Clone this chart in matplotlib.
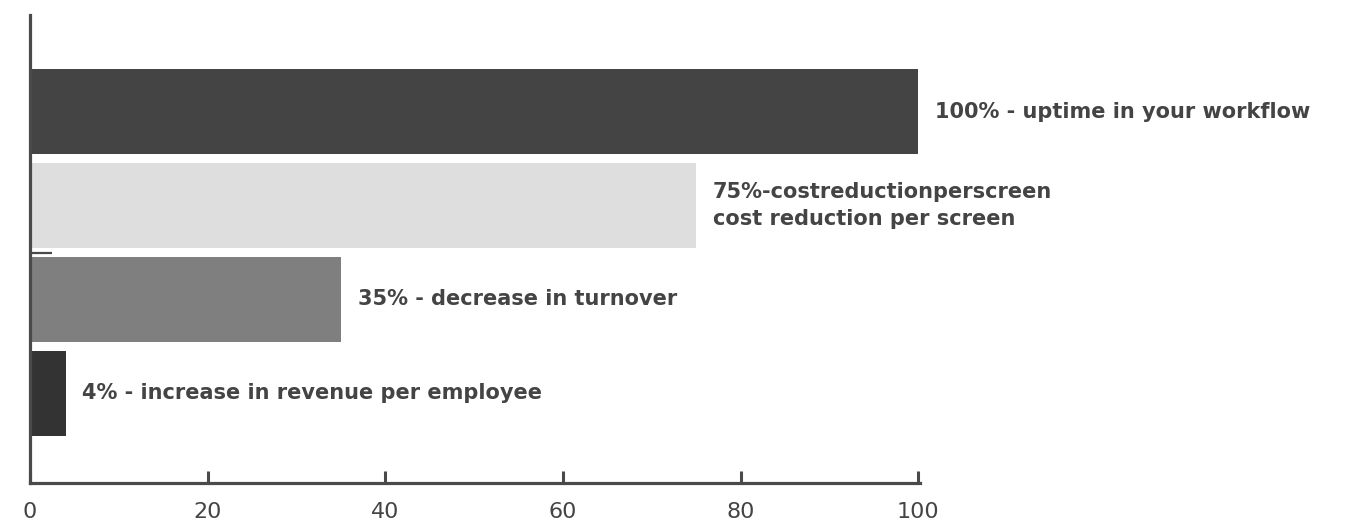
import matplotlib.pyplot as plt

values = [100, 75, 35, 4]
labels = [
    "100% - uptime in your workflow",
    "75%-costreductionperscreen\ncost reduction per screen",
    "35% - decrease in turnover",
    "4% - increase in revenue per employee",
]
colors = ["#444444", "#dedede", "#7f7f7f", "#333333"]
xticks = [0, 20, 40, 60, 80, 100]

plt.rcParams['font.family'] = ['DejaVu Sans']

fig = plt.figure(figsize=(13.51, 5.30), dpi=100)
ax = fig.add_axes([0.0222, 0.0887, 0.6588, 0.883])

y_pos = list(range(len(values)))
ax.barh(y_pos, values, height=0.9, color=colors)

for y, v, lab in zip(y_pos, values, labels):
    ax.text(v + 1.9, y, lab, ha='left', va='center', fontsize=15,
            fontweight='bold', color='#444444', linespacing=1.45)

ax.set_xlim(0, 100.2)
ax.set_ylim(3.955, -1.03)

for side in ['top', 'right']:
    ax.spines[side].set_visible(False)
for side in ['left', 'bottom']:
    ax.spines[side].set_linewidth(2.3)
    ax.spines[side].set_color('#4a4a4a')

ax.set_xticks(xticks)
ax.set_xticklabels([str(t) for t in xticks], fontsize=16, color='#444444')
ax.tick_params(axis='x', direction='in', length=8.5, width=2.2,
               color='#4a4a4a', pad=14)

# small stray tick between the 2nd and 3rd bars
ax.set_yticks([1.5])
ax.set_yticklabels([''])
ax.tick_params(axis='y', direction='in', length=16, width=1.6, color='#4a4a4a')

plt.savefig("out.png", dpi=100)
